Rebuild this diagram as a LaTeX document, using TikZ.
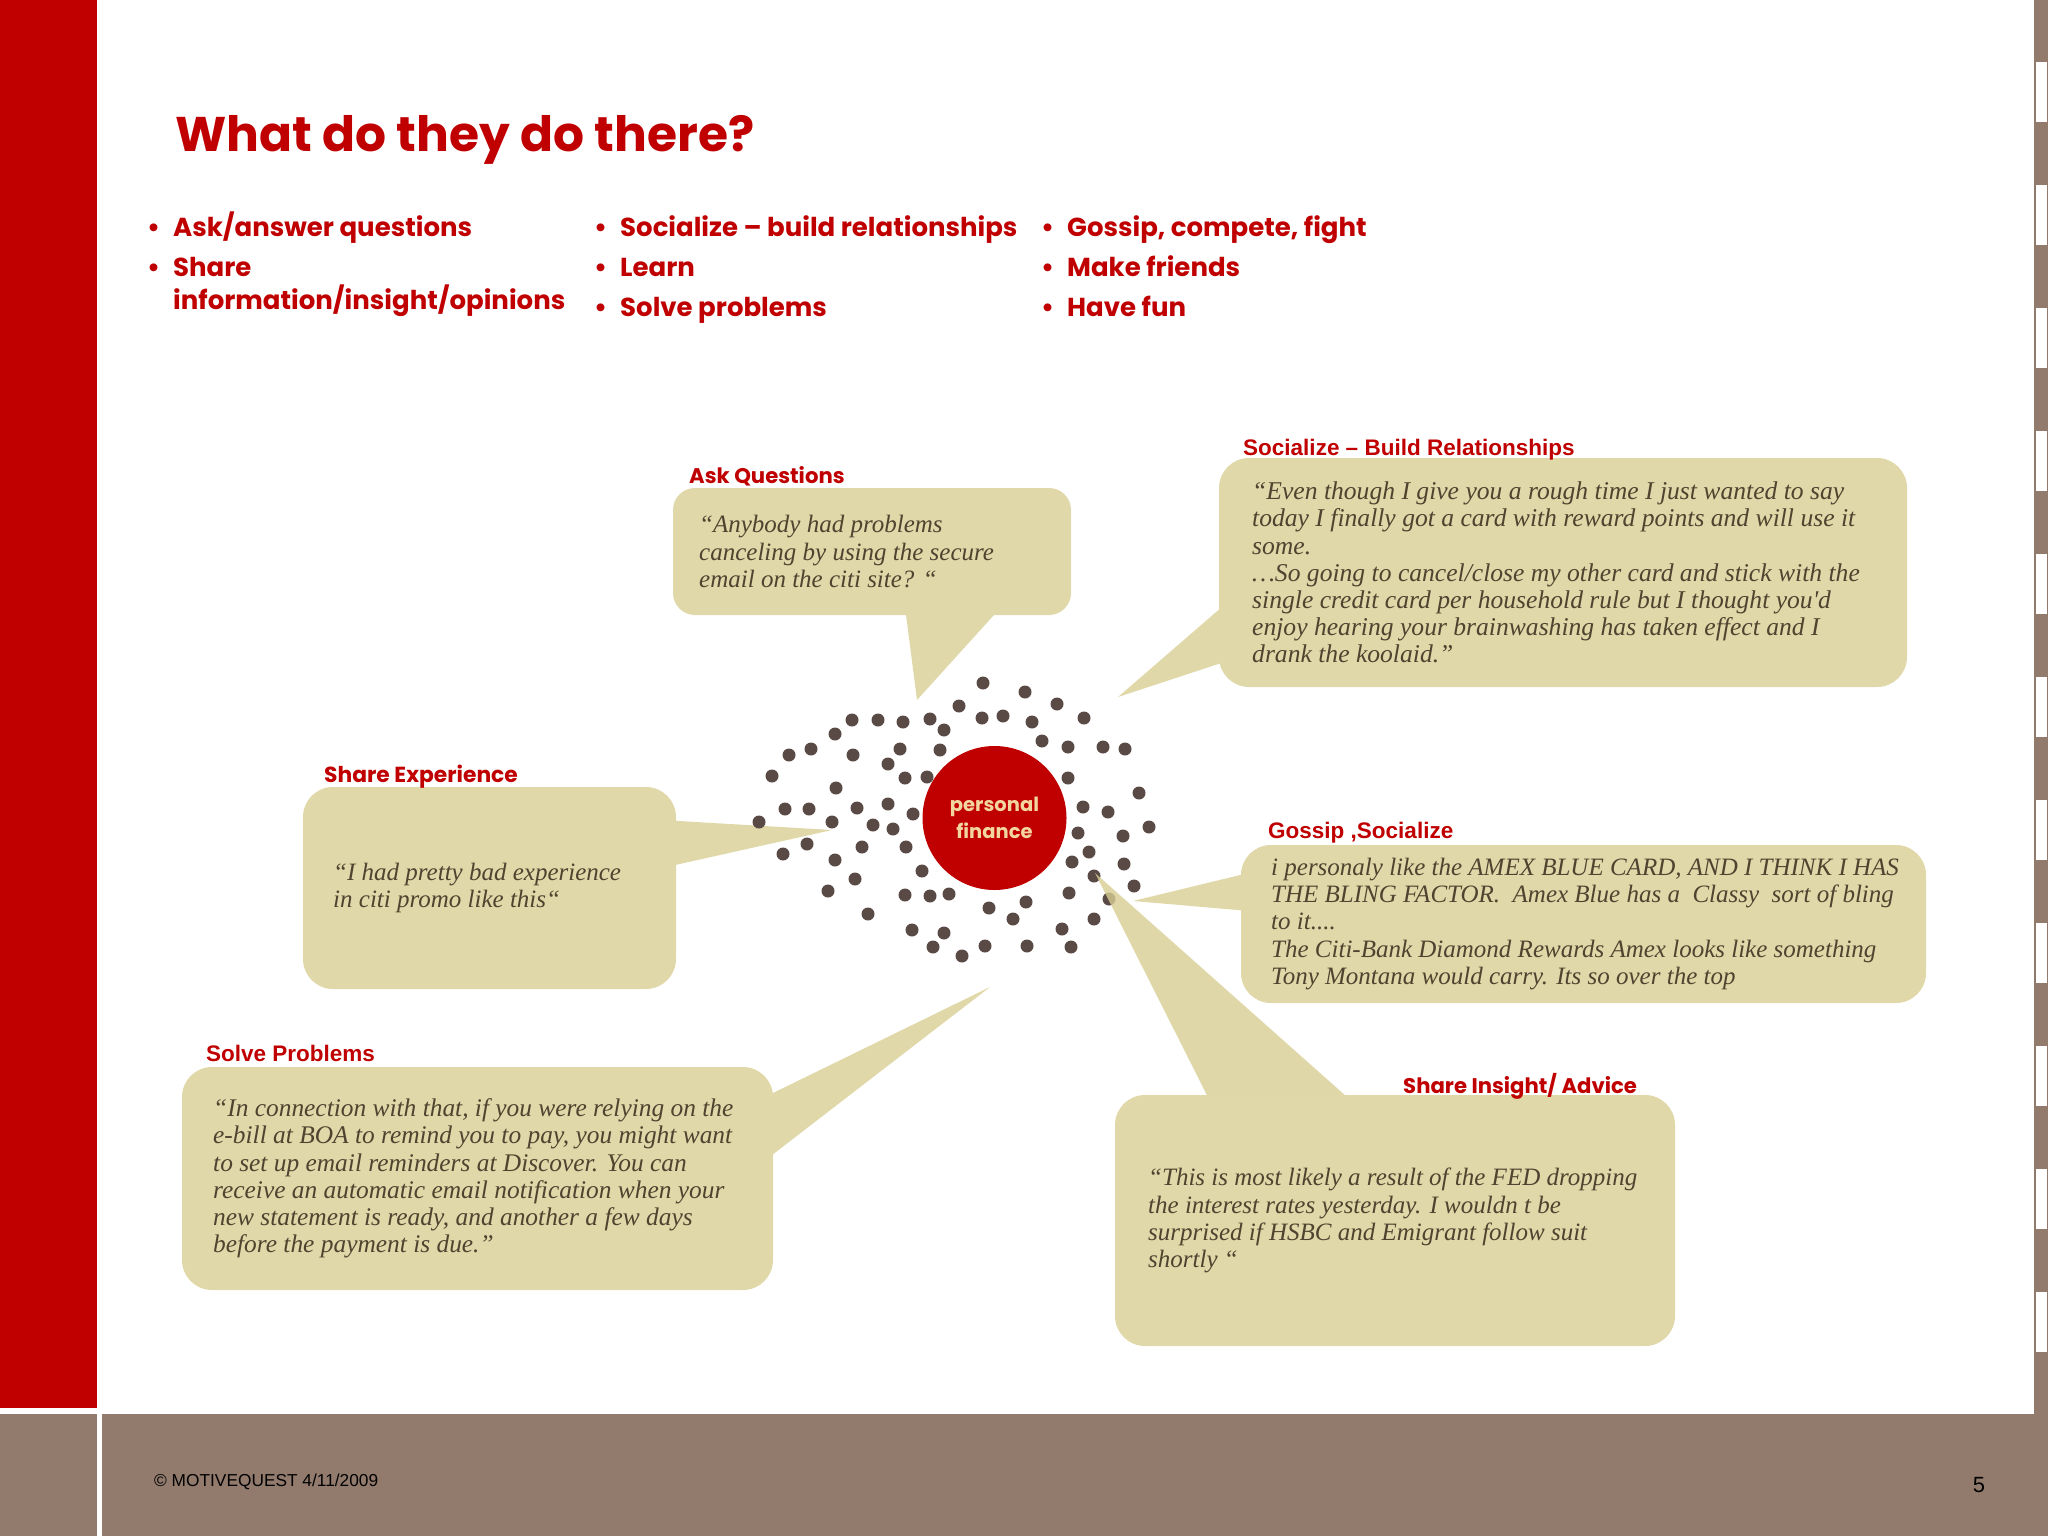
\documentclass[tikz,border=0pt]{standalone}
\usepackage{fontspec}
\setmainfont{Liberation Serif}
\newfontfamily\quotefont{Liberation Serif}
\newfontfamily\gothic{Poppins}
\newfontfamily\arial{Liberation Sans}
\usepackage{xcolor}
\usepackage{tikz}
\usetikzlibrary{calc,backgrounds}

\definecolor{slidered}{RGB}{192,0,0}
\definecolor{footerbrown}{RGB}{146,123,109}
\definecolor{bubblefill}{RGB}{224,216,168}
\definecolor{tailfill}{RGB}{216,206,146}
\definecolor{dotbrown}{RGB}{89,74,70}
\definecolor{quotetext}{RGB}{78,68,48}
\definecolor{circletext}{RGB}{243,214,158}

\begin{document}
\begin{tikzpicture}[
    x=1pt,
    y=-1pt,
    slidetitle/.style={
        font=\gothic\bfseries\fontsize{48.7}{52}\selectfont,
        text=slidered, anchor=base west, inner sep=0pt
    },
    bulletitem/.style={
        font=\gothic\bfseries\fontsize{26}{30}\selectfont,
        text=slidered, anchor=base west, inner sep=0pt
    },
    bubblebox/.style={fill=bubblefill, rounded corners=30pt, inner sep=0pt},
    quote/.style={
        font=\quotefont\itshape\fontsize{25}{27.2}\selectfont,
        text=quotetext, anchor=west, inner sep=0pt, align=left
    },
    gothiclabel/.style={
        font=\gothic\bfseries\fontsize{21.2}{24}\selectfont,
        text=slidered, anchor=base west, inner sep=0pt
    },
    arialabel/.style={
        font=\arial\bfseries\fontsize{22.5}{24}\selectfont,
        text=slidered, anchor=base west, inner sep=0pt
    },
    tail/.style={fill=bubblefill},
    spot/.style={fill=dotbrown}
]
\newcommand{\bul}{\llap{\textbullet\hspace{13pt}}}

\useasboundingbox (0,0) rectangle (2048,1536);

% slide frame
\fill[slidered] (0,0) rectangle (97,1408);
\fill[footerbrown] (0,1414) rectangle (2048,1536);
\fill[white] (97,1414) rectangle (102,1536);
\fill[footerbrown] (2034,0) rectangle (2048,1414);
\foreach \k in {0,...,10}
    \fill[white] (2036,{62+123*\k}) rectangle (2047,{122+123*\k});

\node[slidetitle] (title) at (175,152) {What do they do there?};

\node[bulletitem] (ask) at (173,236) {\bul Ask/answer questions};
\node[bulletitem] (share) at (173,276) {\bul Share};
\node[bulletitem] (shareb) at (173,309) {information/insight/opinions};
\node[bulletitem] (social) at (620,236) {\bul Socialize – build relationships};
\node[bulletitem] (learn) at (620,276) {\bul Learn};
\node[bulletitem] (solve) at (620,316) {\bul Solve problems};
\node[bulletitem] (gossip) at (1067,236) {\bul Gossip, compete, fight};
\node[bulletitem] (friends) at (1067,276) {\bul Make friends};
\node[bulletitem] (fun) at (1067,316) {\bul Have fun};

% speech bubbles
\node[bubblebox, rounded corners=22pt, minimum width=398pt, minimum height=127pt]
    (askbox) at (872,551.5) {};
\node[bubblebox, minimum width=688pt, minimum height=229pt]
    (socbox) at (1563,572.5) {};
\node[bubblebox, minimum width=373pt, minimum height=202pt]
    (shrbox) at (489.5,888) {};
\node[bubblebox, minimum width=685pt, minimum height=158pt]
    (gosbox) at (1583.5,924) {};
\node[bubblebox, minimum width=591pt, minimum height=223pt]
    (slvbox) at (477.5,1178.5) {};
\node[bubblebox, minimum width=560pt, minimum height=251pt]
    (insbox) at (1395,1220.5) {};

\node[gothiclabel] (asklabel) at (689,483) {Ask Questions};
\node[arialabel] (soclabel) at (1243,455) {Socialize – Build Relationships};
\node[gothiclabel, font=\gothic\bfseries\fontsize{21.8}{24}\selectfont] (shrlabel) at (324,782) {Share Experience};
\node[arialabel] (goslabel) at (1268,838) {Gossip ,Socialize};
\node[arialabel] (slvlabel) at (206,1061) {Solve Problems};
\node[gothiclabel] (inslabel) at (1403,1093) {Share Insight/ Advice};

\node[quote] (askq) at (askbox.west -| 699,0) {“Anybody had problems\\
canceling by using the secure\\
email on the citi site? “};
\node[quote, font=\quotefont\itshape\fontsize{25.6}{27.2}\selectfont] (socq) at (socbox.west -| 1252,0) {“Even though I give you a rough time I just wanted to say\\
today I finally got a card with reward points and will use it\\
some.\\
…So going to cancel/close my other card and stick with the\\
single credit card per household rule but I thought you'd\\
enjoy hearing your brainwashing has taken effect and I\\
drank the koolaid.”};
\node[quote] (shrq) at (shrbox.west -| 333,0) {“I had pretty bad experience\\
in citi promo like this“};
\node[quote] (gosq) at (gosbox.west -| 1271,0) {i personaly like the AMEX BLUE CARD, AND I THINK I HAS\\
THE BLING FACTOR.\ \ Amex Blue has a\ \ Classy\ \ sort of bling\\
to it....\\
The Citi-Bank Diamond Rewards Amex looks like something\\
Tony Montana would carry. Its so over the top};
\node[quote, font=\quotefont\itshape\fontsize{25.4}{27.2}\selectfont] (slvq) at (slvbox.west -| 213,0) {“In connection with that, if you were relying on the\\
e-bill at BOA to remind you to pay, you might want\\
to set up email reminders at Discover. You can\\
receive an automatic email notification when your\\
new statement is ready, and another a few days\\
before the payment is due.”};
\node[quote] (insq) at (insbox.west -| 1148,0) {“This is most likely a result of the FED dropping\\
the interest rates yesterday. I wouldn t be\\
surprised if HSBC and Emigrant follow suit\\
shortly “};

\node[circle, fill=slidered, minimum size=144pt, inner sep=0pt, align=center,
    font=\gothic\bfseries\fontsize{19.5}{27}\selectfont, text=circletext]
    (pf) at (994.5,818) {personal\\finance};

\coordinate (asktip) at (917,700);
\coordinate (soctip) at (1118,697);
\coordinate (shrtip) at (832,830);
\coordinate (gostip) at (1133,901);
\coordinate (instip) at (1095,873);
\coordinate (slvtip) at (990,987);

\begin{pgfonlayer}{background}
\fill[white] (0,0) rectangle (2048,1536);
\fill[tail] ($(askbox.south west)+(232,-10)$) -- (asktip) -- ($(askbox.south west)+(330,-10)$) -- cycle;
\fill[tail] ($(socbox.south west)+(11,-87)$) -- (soctip) -- ($(socbox.south west)+(11,-27)$) -- cycle;
\fill[tail] ($(shrbox.south east)+(-11,-169)$) -- (shrtip) -- ($(shrbox.south east)+(-11,-122)$) -- cycle;
\fill[tail] ($(gosbox.south west)+(11,-131)$) -- (gostip) -- ($(gosbox.south west)+(11,-92)$) -- cycle;
\fill[tail] ($(slvbox.north east)+(-10,31)$) -- (slvtip) -- ($(slvbox.north east)+(-10,95)$) -- cycle;
% dots round the circle
\foreach \px/\py in {983/683, 1025/692, 1057/704, 959/706, 1084/718, 852/720, 878/720, 903/722,
    930/719, 982/718, 1003/716, 1032/722, 944/730, 835/734, 789/755, 811/749, 853/755, 900/749,
    940/750, 1042/741, 1068/747, 1103/747, 1125/749, 888/764, 772/776, 905/778, 927/777, 1068/778,
    836/788, 1139/793, 785/809, 809/809, 857/808, 888/804, 913/814, 1083/807, 1108/812, 759/822,
    832/822, 873/825, 893/829, 1149/827, 1078/833, 1123/836, 807/844, 862/847, 906/847, 783/854,
    835/860, 1089/852, 1072/862, 1124/864, 922/871, 1094/876, 855/879, 828/891, 1134/886, 905/895,
    930/896, 949/894, 1069/893, 1026/902, 989/908, 1109/899, 868/914, 1013/919, 1094/919, 912/930,
    944/933, 1062/929, 933/947, 985/946, 1027/946, 1071/947, 962/956}
    \fill[spot] (\px,\py) circle (6.5);
\fill[tailfill, fill opacity=0.8] ($(insbox.north west)+(97,10)$) -- (instip) -- ($(insbox.north west)+(241,10)$) -- cycle;
\end{pgfonlayer}

\node[font=\arial\fontsize{17.3}{20}\selectfont, anchor=base west, inner sep=0pt]
    (copy) at (154,1486) {© MOTIVEQUEST 4/11/2009};
\node[font=\arial\fontsize{22}{24}\selectfont, anchor=base, inner sep=0pt]
    (pagenum) at (1979,1492) {5};

\end{tikzpicture}
\end{document}
